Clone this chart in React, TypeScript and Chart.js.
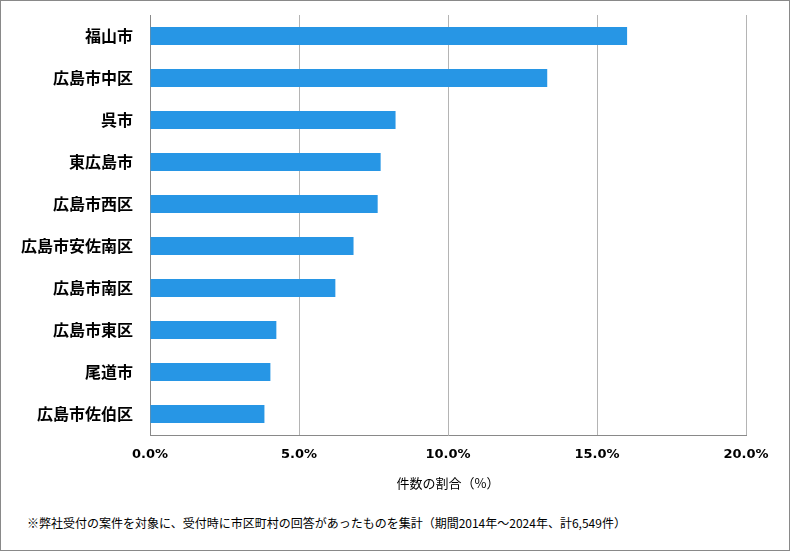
import React, { useEffect, useRef } from "react";
import { Chart, registerables } from "chart.js";

Chart.register(...registerables);

const categories = [
  "福山市",
  "広島市中区",
  "呉市",
  "東広島市",
  "広島市西区",
  "広島市安佐南区",
  "広島市南区",
  "広島市東区",
  "尾道市",
  "広島市佐伯区",
];
const shares = [16.01, 13.33, 8.24, 7.74, 7.64, 6.83, 6.22, 4.24, 4.04, 3.84];
const xTicks = [0, 5, 10, 15, 20];
const axisTitle = "件数の割合（%）";
const footnote =
  "※弊社受付の案件を対象に、受付時に市区町村の回答があったものを集計（期間2014年～2024年、計6,549件）";

export default function App() {
  const ref = useRef<HTMLCanvasElement | null>(null);

  useEffect(() => {
    if (!ref.current) return;
    const chart = new Chart(ref.current, {
      type: "bar",
      data: {
        labels: categories,
        datasets: [
          {
            data: shares,
            backgroundColor: "#2796e5",
            borderWidth: 0,
            categoryPercentage: 1,
            barPercentage: 0.43,
          },
        ],
      },
      options: {
        indexAxis: "y",
        animation: false,
        responsive: false,
        maintainAspectRatio: false,
        layout: { padding: { top: 15, right: 44, left: 0, bottom: 0 } },
        plugins: {
          legend: { display: false },
          tooltip: { enabled: false },
        },
        scales: {
          x: {
            type: "linear",
            min: 0,
            max: 20,
            afterBuildTicks: (axis: any) => {
              axis.ticks = xTicks.map((v) => ({ value: v }));
            },
            afterFit: (axis: any) => {
              axis.height = 60;
            },
            grid: {
              display: true,
              color: "#b4b4b4",
              lineWidth: 1,
              drawTicks: false,
            },
            border: { display: true, color: "#898989", width: 1 },
            ticks: {
              padding: 12,
              color: "#000",
              font: { family: "'DejaVu Sans', Verdana, sans-serif", size: 13, weight: "bold" },
              callback: (v: any) => Number(v).toFixed(1) + "%",
            },
            title: {
              display: true,
              text: axisTitle,
              color: "#000",
              padding: { top: 0, bottom: 4 },
              font: { family: "'Noto Sans CJK JP', sans-serif", size: 13 },
            },
          },
          y: {
            afterFit: (axis: any) => {
              axis.width = 150;
            },
            grid: { display: false, drawTicks: true, tickLength: 17 },
            border: { display: true, color: "#898989", width: 1 },
            ticks: {
              padding: 0,
              color: "#000",
              font: { family: "'Noto Sans CJK JP', sans-serif", size: 16, weight: "bold" },
            },
          },
        },
      },
    });
    return () => chart.destroy();
  }, []);

  return (
    <div
      style={{
        position: "absolute",
        left: 0,
        top: 0,
        width: 790,
        height: 551,
        boxSizing: "border-box",
        border: "1px solid #898989",
        background: "#fff",
        overflow: "hidden",
      }}
    >
      <canvas
        ref={ref}
        width={790}
        height={495}
        style={{ position: "absolute", left: -1, top: -1, width: 790, height: 495 }}
      />
      <div
        style={{
          position: "absolute",
          left: 26,
          top: 513,
          fontFamily: "'Noto Sans CJK JP', sans-serif",
          fontSize: 12,
          lineHeight: "18px",
          color: "#000",
          whiteSpace: "nowrap",
        }}
      >
        {footnote}
      </div>
    </div>
  );
}
